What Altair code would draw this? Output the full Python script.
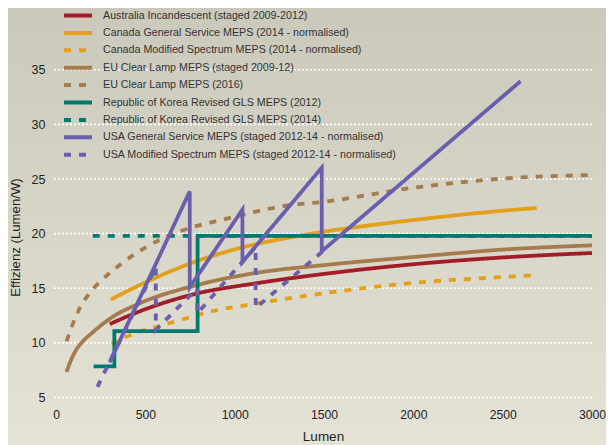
import altair as alt
import pandas as pd

series = [
    "Australia Incandescent (staged 2009-2012)",
    "Canada General Service MEPS (2014 - normalised)",
    "Canada Modified Spectrum MEPS (2014 - normalised)",
    "EU Clear Lamp MEPS (staged 2009-12)",
    "EU Clear Lamp MEPS (2016)",
    "Republic of Korea Revised GLS MEPS (2012)",
    "Republic of Korea Revised GLS MEPS (2014)",
    "USA General Service MEPS (staged 2012-14 - normalised)",
    "USA Modified Spectrum MEPS (staged 2012-14 - normalised)",
]
colors = ["#a21d29", "#e3a01a", "#e3a01a", "#a57c50", "#a57c50",
          "#007a70", "#007a70", "#6a5eae", "#6a5eae"]
dashes = [[1, 0], [1, 0], [7, 8], [1, 0], [7, 8], [1, 0], [7, 8], [1, 0], [7, 8]]

x_ticks = [0, 500, 1000, 1500, 2000, 2500, 3000]
y_ticks = [5, 10, 15, 20, 25, 30, 35]

# smooth curves
aus_lm = [300, 446, 782, 1117, 1528, 2000, 2500, 3000]
aus_eff = [11.72, 12.75, 14.5, 15.45, 16.37, 17.2, 17.82, 18.23]

cgs_lm = [306, 465, 790, 1117, 1304, 1490, 1976, 2500, 2690]
cgs_eff = [13.97, 15.27, 17.5, 19.03, 19.64, 20.15, 21.2, 22.1, 22.35]

cms_lm = [310, 390, 465, 558, 707, 856, 1117, 1509, 2000, 2500, 2675]
cms_eff = [9.88, 10.54, 11.0, 11.46, 12.14, 12.83, 13.6, 14.57, 15.49, 16.03, 16.19]

eus_lm = [58, 80, 110, 150, 203, 315, 465, 782, 1117, 1528, 2000, 2500, 3000]
eus_eff = [7.34, 8.3, 9.3, 10.15, 10.95, 12.37, 13.6, 15.27, 16.4, 17.17, 17.86, 18.54, 18.93]

eu16_lm = [58, 119, 203, 259, 390, 595, 763, 912, 1304, 1490, 2000, 2500, 3000]
eu16_eff = [10.15, 12.74, 14.88, 15.8, 17.56, 19.55, 20.6, 21.2, 22.6, 22.9, 24.2, 25.04, 25.37]

# polylines (steps / sawtooth)
kr12_lm = [210, 326, 326, 792, 792, 3000]
kr12_eff = [7.86, 7.86, 11.08, 11.08, 19.8, 19.8]

kr14_lm = [205, 3000]
kr14_eff = [19.8, 19.8]

usgs_lm = [300, 748, 748, 1043, 1043, 1487, 1487, 2600]
usgs_eff = [8.22, 23.87, 15.1, 22.2, 17.4, 26.04, 18.39, 33.95]

usms_lm = [231, 558, 558, 790, 790, 1117, 1117, 1490]
usms_eff = [5.97, 16.95, 11.2, 15.0, 12.7, 18.8, 13.2, 18.35]


def frame(items):
    rows = []
    for name, lm, eff in items:
        for i, (x, y) in enumerate(zip(lm, eff)):
            rows.append({"series": name, "lm": x, "eff": y, "idx": i})
    return pd.DataFrame(rows)


curves = frame([
    (series[0], aus_lm, aus_eff),
    (series[1], cgs_lm, cgs_eff),
    (series[2], cms_lm, cms_eff),
    (series[3], eus_lm, eus_eff),
    (series[4], eu16_lm, eu16_eff),
])
polys = frame([
    (series[5], kr12_lm, kr12_eff),
    (series[6], kr14_lm, kr14_eff),
    (series[7], usgs_lm, usgs_eff),
    (series[8], usms_lm, usms_eff),
])
grid_df = pd.DataFrame({"eff": y_ticks})

W, H = 538, 366
PL, PT, PR, PB = 46, 29, 14, 42

legend = alt.Legend(
    title=None, orient="none", legendX=17, legendY=-28.5,
    symbolType="M-2.8,0H2.8", symbolSize=100, symbolStrokeWidth=4,
    labelFont="Liberation Sans", labelFontSize=10.7, labelColor="#333333",
    labelOffset=18, rowPadding=1.4, padding=0, labelLimit=400,
)

x_scale = alt.Scale(domain=[-12, 3000], nice=False, zero=False)
y_scale = alt.Scale(domain=[4.5, 38], nice=False, zero=False)

x_enc = alt.X("lm:Q", scale=x_scale,
              axis=alt.Axis(values=x_ticks, format="d", grid=False, zindex=1,
                            domain=False, ticks=False, tickSize=0, labelFlush=False,
                            labelFontSize=12.2, labelColor="#1e1e1e", labelPadding=5,
                            title="Lumen", titleFontSize=13.5, titleFontWeight="normal",
                            titleColor="#1e1e1e", titlePadding=9))
y_enc = alt.Y("eff:Q", scale=y_scale,
              axis=alt.Axis(values=y_ticks, format="d", grid=False, zindex=1,
                            domain=False, ticks=False, tickSize=0,
                            labelFontSize=12.5, labelColor="#1e1e1e", labelPadding=9,
                            title="Effizienz (Lumen/W)", titleFontSize=13.2,
                            titleFontWeight="normal", titleColor="#1e1e1e",
                            titlePadding=9, titleY=200))
color = alt.Color("series:N", scale=alt.Scale(domain=series, range=colors), legend=legend)
dash = alt.StrokeDash("series:N", scale=alt.Scale(domain=series, range=dashes), legend=legend)

bg = alt.Chart(pd.DataFrame({"a": [0]})).mark_rect(
    fill=alt.Gradient(gradient="linear",
                      stops=[alt.GradientStop(color="#cac9bb", offset=0),
                             alt.GradientStop(color="#e5e2d6", offset=1)],
                      x1=0, x2=0, y1=0, y2=1)
).encode(x=alt.value(-PL), x2=alt.value(W + PR), y=alt.value(-PT), y2=alt.value(H + PB))

grid = alt.Chart(grid_df).mark_rule(color="white", strokeDash=[2, 2], strokeWidth=1.6).encode(
    y=alt.Y("eff:Q", scale=y_scale), x=alt.value(0), x2=alt.value(W))

curve_layer = alt.Chart(curves).mark_line(interpolate="monotone", strokeWidth=3.8).encode(
    x=x_enc, y=y_enc, color=color, strokeDash=dash, order=alt.Order("idx:Q"))
poly_layer = alt.Chart(polys).mark_line(interpolate="linear", strokeWidth=3.8).encode(
    x=x_enc, y=y_enc, color=color, strokeDash=dash, order=alt.Order("idx:Q"))

chart = alt.layer(bg, grid, curve_layer, poly_layer).properties(
    width=W, height=H,
    autosize=alt.AutoSizeParams(type="none"),
    padding={"left": PL, "top": PT, "right": PR, "bottom": PB},
    background="#d8d6c9",
).configure_view(stroke=None).configure(font="Liberation Sans")

chart.save("out.html", embed_options={"renderer": "svg", "actions": False})
